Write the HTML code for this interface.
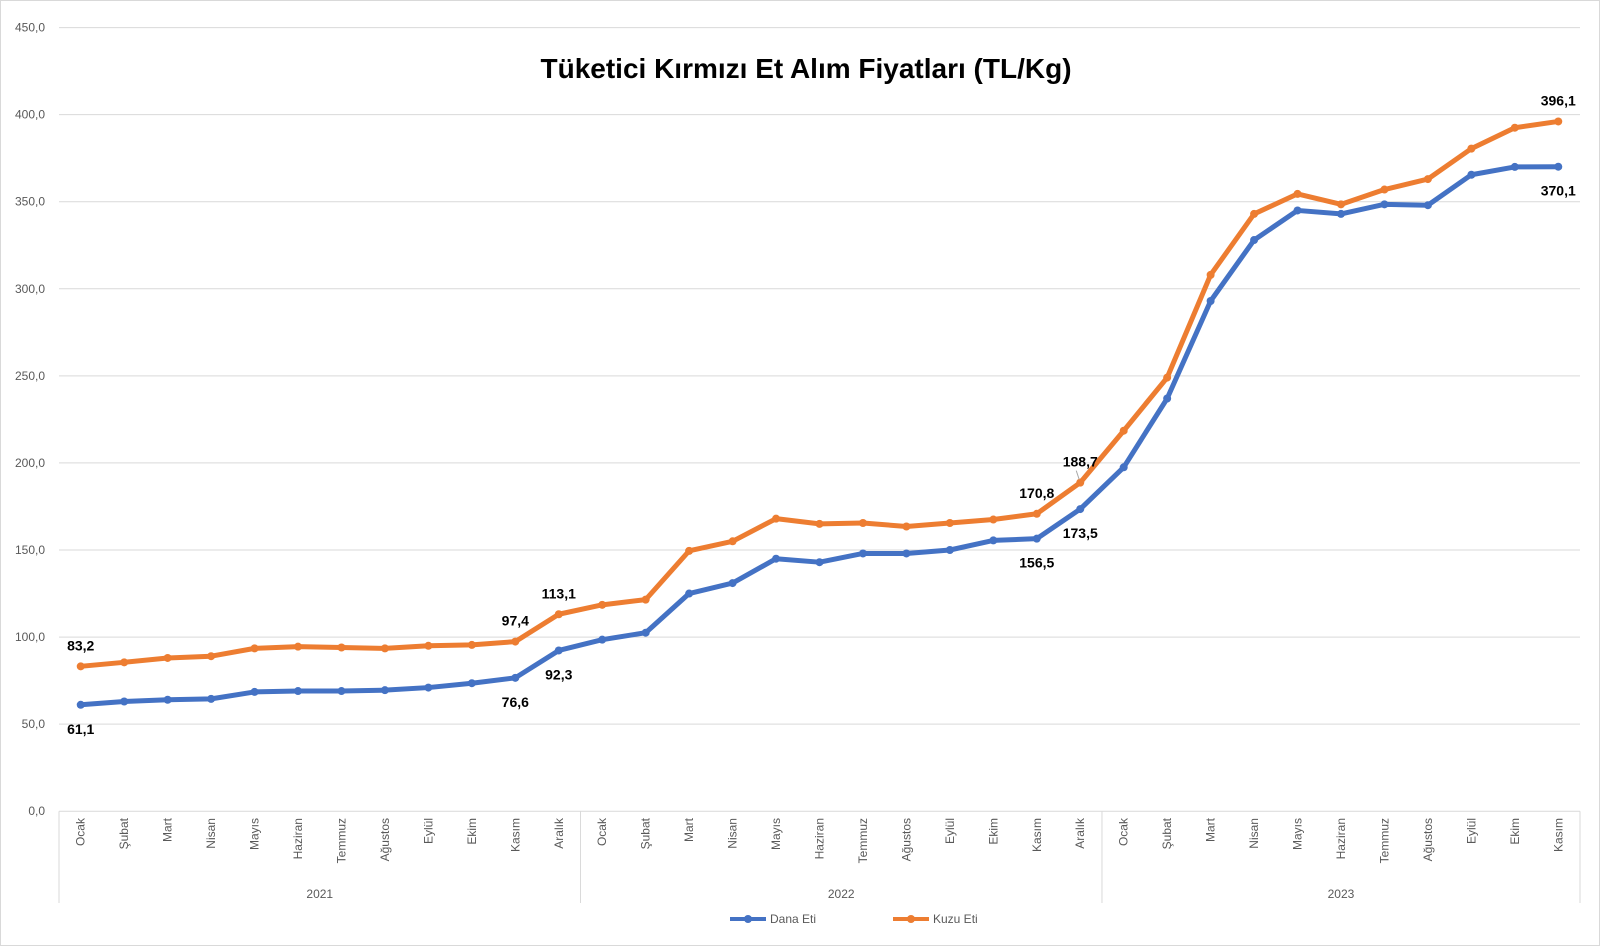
<!DOCTYPE html>
<html><head><meta charset="utf-8"><style>
html,body{margin:0;padding:0;background:#fff;}
svg{display:block;font-family:"Liberation Sans",Calibri,sans-serif;}
</style></head><body>
<svg id="chart" width="1600" height="946" viewBox="0 0 1600 946">
<rect x="0.5" y="0.5" width="1599" height="945" fill="#fff" stroke="#d9d9d9"/>
<text x="806" y="78" text-anchor="middle" font-size="28" font-weight="bold" fill="#000">Tüketici Kırmızı Et Alım Fiyatları (TL/Kg)</text>
<g id="grid"></g><g id="axes"></g><g id="series"></g><g id="labels"></g>
<g>
<line x1="730" y1="919" x2="766" y2="919" stroke="#4472c4" stroke-width="4"/>
<circle cx="748" cy="919" r="4" fill="#4472c4"/>
<text x="770" y="923" font-size="12" fill="#595959">Dana Eti</text>
<line x1="893" y1="919" x2="929" y2="919" stroke="#ed7d31" stroke-width="4"/>
<circle cx="911" cy="919" r="4" fill="#ed7d31"/>
<text x="933" y="923" font-size="12" fill="#595959">Kuzu Eti</text>
</g>
</svg>
<script>
const months = ["Ocak","Şubat","Mart","Nisan","Mayıs","Haziran","Temmuz","Ağustos","Eylül","Ekim","Kasım","Aralık","Ocak","Şubat","Mart","Nisan","Mayıs","Haziran","Temmuz","Ağustos","Eylül","Ekim","Kasım","Aralık","Ocak","Şubat","Mart","Nisan","Mayıs","Haziran","Temmuz","Ağustos","Eylül","Ekim","Kasım"];
const years = ["2021","2022","2023"];
const yearCounts = [12,12,11];
const danaEti = [61.1,63,64,64.5,68.5,69,69,69.5,71,73.5,76.6,92.3,98.5,102.5,125,131,145,143,148,148,150,155.5,156.5,173.5,197.5,237,293,328,345,343,348.5,348,365.5,370,370.1];
const kuzuEti = [83.2,85.5,88,89,93.5,94.5,94,93.5,95,95.5,97.4,113.1,118.5,121.5,149.5,155,168,165,165.5,163.5,165.5,167.5,170.8,188.7,218.5,249,308,343,354.5,348.5,357,363,380.5,392.5,396.1];
const yTicks = [0,50,100,150,200,250,300,350,400,450];
const danaLabelIdx = [0,10,11,22,23,34];
const kuzuLabelIdx = [0,10,11,22,23,34];

const NS="http://www.w3.org/2000/svg";
const L=59,R=1580,T=27.6,B=811.2,YMAX=450;
const step=(R-L)/months.length;
const xs=i=>L+step*(i+0.5);
const ys=v=>B-(v/YMAX)*(B-T);
const fmt=v=>v.toFixed(1).replace('.',',');
function mk(tag,attrs,parent){const e=document.createElementNS(NS,tag);for(const k in attrs)e.setAttribute(k,attrs[k]);parent.appendChild(e);return e;}
const grid=document.getElementById('grid'),axes=document.getElementById('axes'),ser=document.getElementById('series'),lab=document.getElementById('labels');

yTicks.forEach(t=>{
  const y=ys(t);
  if(t>0){const g=mk('line',{x1:L,x2:R,y1:y,y2:y,stroke:'#d9d9d9','stroke-width':1},grid);
  
  }
  const tx=mk('text',{x:45,y:y+4,'text-anchor':'end','font-size':12,fill:'#595959'},axes);
  tx.textContent=fmt(t);
  
  
});
const ax=mk('line',{x1:L,x2:R,y1:B,y2:B,stroke:'#d9d9d9'},axes);


let acc=0;
const seps=[0];yearCounts.forEach(c=>{acc+=c;seps.push(acc);});
seps.forEach((s,k)=>{
  const x=L+step*s;
  const ln=mk('line',{x1:x,x2:x,y1:B,y2:903,stroke:'#d9d9d9'},axes);
  
  
});
years.forEach((yr,k)=>{
  const cx=L+step*(seps[k]+seps[k+1])/2;
  const t=mk('text',{x:cx,y:898,'text-anchor':'middle','font-size':12,fill:'#595959'},axes);
  t.textContent=yr;
  
  
});
months.forEach((m,i)=>{
  const x=xs(i)+4,y=818;
  const t=mk('text',{x:x,y:y,'text-anchor':'end','font-size':12,fill:'#595959',transform:`rotate(-90 ${x} ${y})`},axes);
  t.textContent=m;
  
  
});
function drawSeries(data,color,name){
  const p=mk('polyline',{points:data.map((v,i)=>xs(i)+','+ys(v)).join(' '),fill:'none',stroke:color,'stroke-width':5,'stroke-linejoin':'round','stroke-linecap':'round'},ser);
  
  
  data.forEach((v,i)=>{
    const c=mk('circle',{cx:xs(i),cy:ys(v),r:4,fill:color},ser);
    
    
  });
}
drawSeries(danaEti,'#4472c4','dana-eti');
drawSeries(kuzuEti,'#ed7d31','kuzu-eti');
function drawLabels(data,idx,dy,name){
  idx.forEach(i=>{
    const t=mk('text',{x:xs(i),y:ys(data[i])+dy,'text-anchor':'middle','font-size':14,'font-weight':'bold',fill:'#000'},lab);
    t.textContent=fmt(data[i]);
    
    
  });
}
drawLabels(danaEti,danaLabelIdx,29,'dana-eti');
drawLabels(kuzuEti,kuzuLabelIdx,-16,'kuzu-eti');
const li=23;
const leader=mk('line',{x1:xs(li)-4,y1:ys(kuzuEti[li])-12,x2:xs(li)-1,y2:ys(kuzuEti[li])-3,stroke:'#a6a6a6','stroke-width':1},lab);


</script>
</body></html>
